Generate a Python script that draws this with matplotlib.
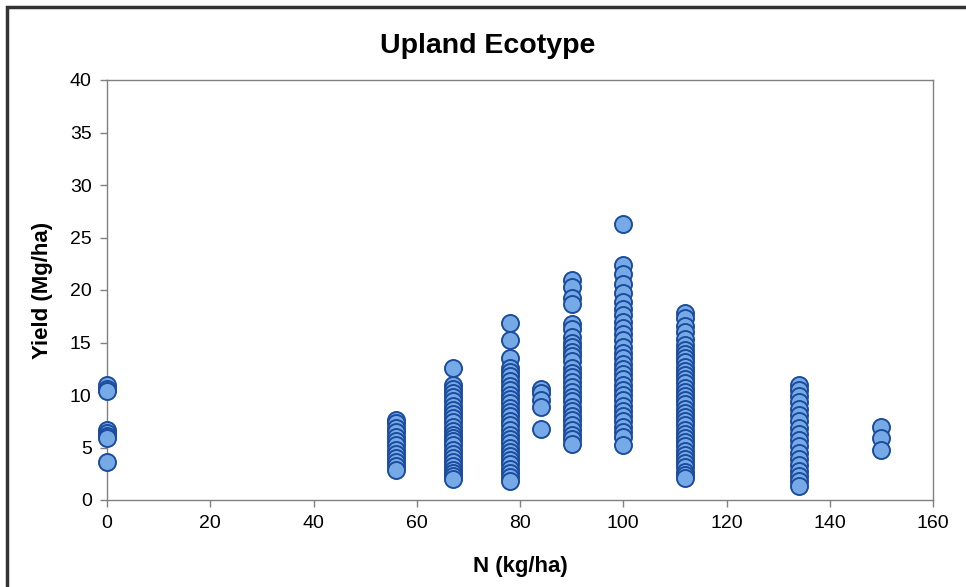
import matplotlib
matplotlib.use("Agg")
import matplotlib.pyplot as plt
from matplotlib.patches import Rectangle

plt.rcParams['font.family'] = ['Liberation Sans', 'DejaVu Sans']

# Data: N rate (kg/ha) -> yields (Mg/ha)
n_rates = [0, 56, 67, 78, 84, 90, 100, 112, 134, 150]
yield_0 = [11.0, 10.6, 10.4, 6.7, 6.4, 6.1, 5.9, 3.6]
yield_56 = [7.6, 7.3, 6.9, 6.5, 6.0, 5.6, 5.2, 4.8, 4.4, 4.0, 3.6, 3.2, 2.9]
yield_67 = [12.6, 11.0, 10.6, 10.2, 9.8, 9.4, 9.0, 8.6, 8.2, 7.8, 7.4, 7.0, 6.6,
            6.2, 5.9, 5.6, 5.2, 4.8, 4.4, 4.0, 3.6, 3.2, 2.9, 2.6, 2.3, 2.0]
yield_78 = [16.9, 15.2, 13.5, 12.6, 12.2, 11.8, 11.3, 10.9, 10.5, 10.0, 9.6, 9.2,
            8.8, 8.4, 8.0, 7.5, 7.1, 6.7, 6.2, 5.8, 5.4, 5.0, 4.6, 4.2, 3.8, 3.4,
            3.0, 2.6, 2.2, 1.8]
yield_84 = [10.6, 10.2, 9.5, 8.9, 6.8]
yield_90 = [21.0, 20.3, 19.2, 18.7, 16.8, 16.3, 15.5, 15.0, 14.6, 14.1, 13.7, 13.2,
            12.6, 12.1, 11.7, 11.2, 10.8, 10.3, 9.8, 9.4, 8.9, 8.5, 8.0, 7.6, 7.1,
            6.7, 6.2, 5.8, 5.3]
yield_100 = [26.3, 22.4, 21.5, 20.6, 19.7, 18.9, 18.2, 17.6, 17.0, 16.4, 15.8, 15.2,
             14.6, 14.0, 13.5, 13.0, 12.5, 12.0, 11.5, 11.0, 10.5, 10.0, 9.5, 9.0,
             8.5, 8.0, 7.5, 7.0, 6.5, 6.0, 5.2]
yield_112 = [17.8, 17.3, 16.6, 16.0, 15.3, 14.8, 14.3, 13.9, 13.5, 13.1, 12.7, 12.3,
             11.9, 11.5, 11.1, 10.7, 10.3, 9.9, 9.5, 9.1, 8.7, 8.3, 7.9, 7.5, 7.1,
             6.7, 6.3, 5.9, 5.5, 5.1, 4.7, 4.3, 3.9, 3.5, 3.1, 2.7, 2.4, 2.1]
yield_134 = [11.0, 10.5, 9.9, 9.3, 8.7, 8.1, 7.5, 6.9, 6.3, 5.7, 5.1, 4.5, 3.9, 3.3,
             2.8, 2.3, 1.8, 1.3]
yield_150 = [7.0, 5.9, 4.8]

yields = [yield_0, yield_56, yield_67, yield_78, yield_84, yield_90,
          yield_100, yield_112, yield_134, yield_150]

x_ticks = [0, 20, 40, 60, 80, 100, 120, 140, 160]
y_ticks = [0, 5, 10, 15, 20, 25, 30, 35, 40]

xs, ys = [], []
for n, ylist in zip(n_rates, yields):
    xs.extend([n] * len(ylist))
    ys.extend(ylist)

fig = plt.figure(figsize=(9.66, 5.87), dpi=100)
ax = fig.add_axes([107/966, 1 - 500/587, (933 - 107)/966, (500 - 80)/587])

ax.scatter(xs, ys, s=150, facecolor='#76aae6', edgecolor='#1c4c9e',
           linewidths=1.4, clip_on=False, zorder=3)

ax.set_xlim(0, 160)
ax.set_ylim(0, 40)
ax.set_xticks(x_ticks)
ax.set_yticks(y_ticks)
ax.tick_params(direction='out', length=5, width=1, color='#808080',
               labelsize=14, labelcolor='#000000', pad=6)
for sp in ax.spines.values():
    sp.set_color('#808080')
    sp.set_linewidth(1.0)

ax.set_xlabel('N (kg/ha)', fontsize=16, fontweight='bold', labelpad=17)
ax.set_ylabel('Yield (Mg/ha)', fontsize=16, fontweight='bold', labelpad=12)
fig.text(488/966, 1 - 46/587, 'Upland Ecotype', fontsize=20.5, fontweight='bold',
         ha='center', va='center')

fig.patches.append(Rectangle((7/966, -0.1), 1.2, 1.1 - 7/587,
                             transform=fig.transFigure, fill=False,
                             edgecolor='#333333', linewidth=2.5))

fig.savefig('out.png', dpi=100, facecolor='white')
